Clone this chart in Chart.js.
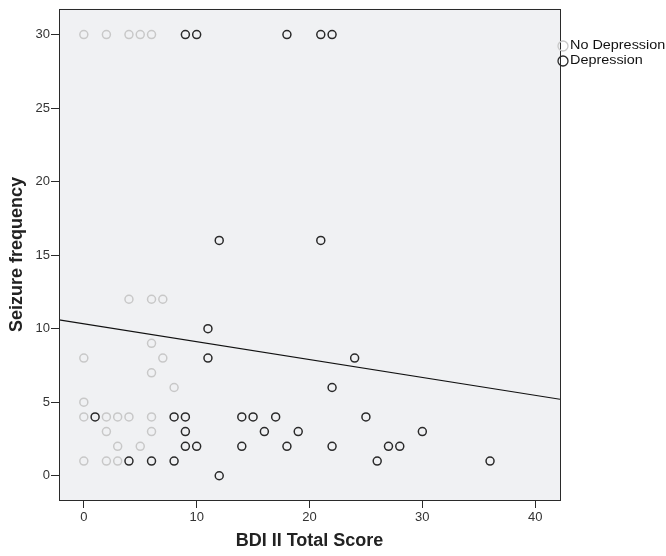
<!DOCTYPE html>
<html>
<head>
<meta charset="utf-8">
<script src="https://cdn.jsdelivr.net/npm/chart.js@4"></script>
<style>
  body { margin: 0; background: #fff; }
</style>
</head>
<body>
<canvas id="scatterChart" width="666" height="556"></canvas>
<script>
// data (BDI II score, seizure frequency)
const noDepX = [0, 2, 4, 5, 6, 4, 6, 7, 6, 0, 7, 6, 8, 0, 0, 2, 3, 4, 6, 2, 6, 3, 5, 0, 2, 3];
const noDepY = [30, 30, 30, 30, 30, 12, 12, 12, 9, 8, 8, 7, 6, 5, 4, 4, 4, 4, 4, 3, 3, 2, 2, 1, 1, 1];
const depX = [9, 10, 18, 21, 22, 12, 21, 11, 11, 24, 22, 1, 8, 9, 14, 15, 17, 25, 9, 16, 19, 30, 9, 10, 14, 18, 22, 27, 28, 4, 6, 8, 26, 36, 12];
const depY = [30, 30, 30, 30, 30, 16, 16, 10, 8, 8, 6, 4, 4, 4, 4, 4, 4, 4, 3, 3, 3, 3, 2, 2, 2, 2, 2, 2, 2, 1, 1, 1, 1, 1, 0];
// fit line end points, read at the plot edges
const fitX = [-2.2, 42.2];
const fitY = [10.6, 5.2];
const xTicks = [0, 10, 20, 30, 40];
const yTicks = [0, 5, 10, 15, 20, 25, 30];

const toPoints = (xs, ys) => xs.map((x, i) => ({ x: x, y: ys[i] }));

const FONT = "'Liberation Sans', Arial, sans-serif";
const lightColor = '#c8c8c8';
const darkColor = '#2a2a2a';

// plot background, frame and the legend at the right
const framePlugin = {
  id: 'frame',
  beforeDraw(chart) {
    const { ctx, chartArea: a } = chart;
    ctx.save();
    ctx.fillStyle = '#f0f1f3';
    ctx.fillRect(a.left, a.top, a.right - a.left, a.bottom - a.top);
    ctx.restore();
  },
  afterDraw(chart) {
    const { ctx, chartArea: a } = chart;
    ctx.save();
    ctx.strokeStyle = '#2a2a2a';
    ctx.lineWidth = 1;
    ctx.strokeRect(Math.round(a.left) + 0.5, Math.round(a.top) + 0.5,
      Math.round(a.right - a.left), Math.round(a.bottom - a.top));

    // legend
    const items = [
      { text: 'No Depression', color: lightColor },
      { text: 'Depression', color: darkColor }
    ];
    items.forEach((it, i) => {
      const y = 46 + i * 15;
      ctx.beginPath();
      ctx.arc(563, y, 5, 0, Math.PI * 2);
      ctx.strokeStyle = it.color;
      ctx.lineWidth = 1.3;
      ctx.stroke();
      ctx.save();
      ctx.translate(570, y);
      ctx.scale(1.2, 1);
      ctx.font = '12px ' + FONT;
      ctx.textBaseline = 'middle';
      ctx.fillStyle = '#111';
      ctx.fillText(it.text, 0, 0);
      ctx.restore();
    });
    ctx.restore();
  }
};

const ctx = document.getElementById('scatterChart').getContext('2d');
const scatterChart = new Chart(ctx, {
  type: 'scatter',
  data: {
    datasets: [{
      label: 'Fit',
      type: 'line',
      data: toPoints(fitX, fitY),
      borderColor: '#111',
      borderWidth: 1.2,
      pointRadius: 0,
      fill: false,
    }, {
      label: 'No Depression',
      data: toPoints(noDepX, noDepY),
      pointStyle: 'circle',
      pointRadius: 4,
      pointBorderWidth: 1.5,
      backgroundColor: 'rgba(0,0,0,0)',
      borderColor: lightColor,
    }, {
      label: 'Depression',
      data: toPoints(depX, depY),
      pointStyle: 'circle',
      pointRadius: 4,
      pointBorderWidth: 1.5,
      backgroundColor: 'rgba(0,0,0,0)',
      borderColor: darkColor,
    }]
  },
  options: {
    responsive: false,
    animation: false,
    layout: {
      padding: { top: 7, right: 106, left: 0, bottom: 0 }
    },
    plugins: {
      legend: { display: false },
      tooltip: { enabled: false }
    },
    scales: {
      x: {
        type: 'linear',
        min: -2.2,
        max: 42.2,
        afterBuildTicks: (scale) => { scale.ticks = xTicks.map(v => ({ value: v })); },
        afterFit: (scale) => { scale.height = 56; },
        grid: { drawOnChartArea: false, drawTicks: true, tickLength: 8, color: '#2a2a2a' },
        border: { display: false },
        ticks: { color: '#333', font: { family: FONT, size: 13 }, padding: 2, maxRotation: 0 },
        title: {
          display: true,
          text: 'BDI II Total Score',
          color: '#222',
          font: { family: FONT, size: 18, weight: 'bold' },
          padding: { top: 0, bottom: 4 }
        }
      },
      y: {
        type: 'linear',
        min: -1.65,
        max: 31.75,
        afterBuildTicks: (scale) => { scale.ticks = yTicks.map(v => ({ value: v })); },
        afterFit: (scale) => { scale.width = 59; },
        grid: { drawOnChartArea: false, drawTicks: true, tickLength: 8, color: '#2a2a2a' },
        border: { display: false },
        ticks: { color: '#333', font: { family: FONT, size: 13 }, padding: 1 },
        title: {
          display: true,
          text: 'Seizure frequency',
          color: '#222',
          font: { family: FONT, size: 18, weight: 'bold' },
          padding: { top: 6, bottom: 0 }
        }
      }
    }
  },
  plugins: [framePlugin]
});
</script>
</body>
</html>
